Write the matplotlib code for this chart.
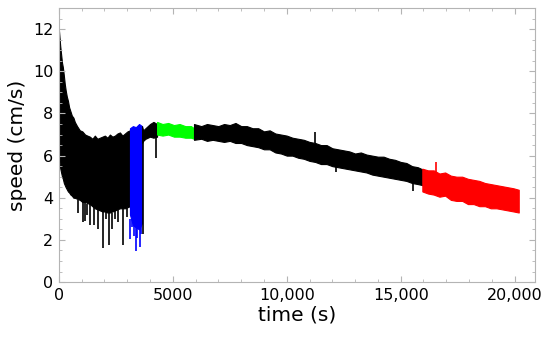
import numpy as np
import matplotlib
matplotlib.use("Agg")
import matplotlib.pyplot as plt
from matplotlib.ticker import MultipleLocator, FuncFormatter

# Envelopes of the noisy speed trace (time in s, speed in cm/s)
t_black1 = [0, 30, 60, 100, 140, 176, 220, 260, 300, 350, 400, 450, 510, 570, 640,
            700, 800, 920, 1030, 1150, 1250, 1360, 1470, 1580, 1690, 1800, 1910,
            2020, 2130, 2240, 2350, 2460, 2570, 2680, 2790, 2900, 3010, 3120]
hi_black1 = [12.0, 11.6, 11.2, 10.8, 10.4, 10.2, 9.8, 9.4, 9.1, 8.8, 8.6, 8.3, 8.1, 7.9, 7.8,
             7.6, 7.4, 7.2, 7.15, 7.0, 6.95, 6.9, 6.8, 6.95, 6.8, 6.85, 6.9,
             6.95, 6.85, 7.0, 6.9, 6.95, 7.05, 7.1, 6.95, 7.05, 7.15, 7.2]
lo_black1 = [6.1, 5.7, 5.4, 5.2, 5.0, 4.9, 4.7, 4.6, 4.5, 4.4, 4.3, 4.25, 4.15, 4.1, 4.0,
             4.0, 3.95, 3.9, 3.8, 3.8, 3.75, 3.7, 3.6, 3.5, 3.45, 3.4, 3.35,
             3.35, 3.3, 3.3, 3.35, 3.4, 3.45, 3.5, 3.5, 3.5, 3.55, 3.6]

t_blue = [3120, 3250, 3380, 3520, 3650]
hi_blue = [7.3, 7.4, 7.35, 7.5, 7.4]
lo_blue = [3.2, 2.7, 2.6, 2.5, 2.8]

t_black2 = [3650, 3700, 3800, 4000, 4150, 4310]
hi_black2 = [7.4, 7.2, 7.3, 7.5, 7.6, 7.5]
lo_black2 = [6.6, 6.7, 6.8, 6.9, 6.85, 6.9]

t_green = [4310, 4550, 4800, 5050, 5300, 5550, 5800, 5930]
hi_green = [7.6, 7.5, 7.55, 7.45, 7.5, 7.4, 7.4, 7.3]
lo_green = [7.0, 6.95, 7.0, 6.9, 6.9, 6.85, 6.85, 6.8]

t_black3 = [5930, 6250, 6500, 6750, 7000, 7250, 7500, 7750, 8000, 8250, 8500, 8750,
            9000, 9250, 9500, 9750, 10000, 10250, 10500, 10750, 11000, 11250, 11500,
            11750, 12000, 12250, 12500, 12750, 13000, 13250, 13500, 13750, 14000,
            14250, 14500, 14750, 15000, 15250, 15500, 15750, 15950]
hi_black3 = [7.5, 7.4, 7.5, 7.45, 7.4, 7.5, 7.45, 7.55, 7.4, 7.4, 7.3, 7.3,
             7.15, 7.2, 7.05, 7.0, 6.95, 6.85, 6.8, 6.75, 6.65, 6.6, 6.5,
             6.5, 6.35, 6.3, 6.25, 6.2, 6.1, 6.15, 6.05, 6.0, 5.95,
             5.95, 5.85, 5.8, 5.7, 5.65, 5.5, 5.45, 5.35]
lo_black3 = [6.75, 6.8, 6.7, 6.75, 6.7, 6.65, 6.7, 6.6, 6.6, 6.5, 6.45, 6.4,
             6.3, 6.3, 6.15, 6.1, 6.0, 6.0, 5.9, 5.85, 5.75, 5.7, 5.6,
             5.6, 5.5, 5.45, 5.4, 5.35, 5.3, 5.25, 5.2, 5.1, 5.05,
             5.0, 4.95, 4.9, 4.85, 4.8, 4.7, 4.65, 4.6]

t_red = [15950, 16200, 16450, 16700, 16950, 17200, 17450, 17700, 17950, 18200,
         18450, 18700, 18950, 19200, 19450, 19700, 19950, 20180]
hi_red = [5.38, 5.3, 5.3, 5.15, 5.2, 5.05, 5.0, 5.0, 4.9, 4.85,
          4.8, 4.7, 4.65, 4.6, 4.55, 4.5, 4.45, 4.38]
lo_red = [4.3, 4.2, 4.15, 4.05, 4.1, 3.9, 3.85, 3.85, 3.7, 3.7,
          3.6, 3.6, 3.5, 3.5, 3.45, 3.4, 3.35, 3.3]

# Isolated spikes: time, tip value, value where the spike joins the band
spike_black_t = [850, 1050, 1140, 1250, 1360, 1540, 1710, 1930, 2050, 2200, 2330, 2450,
                 2590, 2810, 2990, 3680, 4260, 11250, 12170, 15560]
spike_black_tip = [3.3, 2.85, 2.9, 3.2, 2.7, 2.7, 2.5, 1.6, 3.0, 1.75, 2.5, 3.0,
                   2.85, 1.75, 3.1, 2.3, 5.9, 7.14, 5.2, 4.3]
spike_black_base = [3.9, 3.8, 3.75, 3.7, 3.7, 3.6, 3.5, 3.4, 3.35, 3.35, 3.3, 3.4,
                    3.4, 3.5, 3.5, 6.7, 6.9, 6.6, 5.5, 4.7]
spike_blue_t = [3140, 3200, 3300, 3380, 3450, 3540, 3600]
spike_blue_tip = [2.05, 2.6, 2.2, 1.45, 2.1, 1.65, 2.3]
spike_red_t = [16570]
spike_red_tip = [5.7]

plt.rcParams['font.family'] = 'DejaVu Sans'
fig = plt.figure(figsize=(5.5, 3.39), dpi=100)
ax = fig.add_axes([0.107, 0.168, 0.866, 0.808])

segments = [
    (t_black1, hi_black1, lo_black1, 'black'),
    (t_blue, hi_blue, lo_blue, '#0000ff'),
    (t_black2, hi_black2, lo_black2, 'black'),
    (t_green, hi_green, lo_green, '#00ff00'),
    (t_black3, hi_black3, lo_black3, 'black'),
    (t_red, hi_red, lo_red, '#ff0000'),
]
for t, hi, lo, c in segments:
    ax.fill_between(t, lo, hi, color=c, lw=0.8, edgecolor=c)

ax.vlines(spike_black_t, spike_black_tip, spike_black_base, color='black', lw=1.2)
ax.vlines(spike_blue_t, spike_blue_tip, 3.0, color='#0000ff', lw=1.2)
ax.vlines(spike_red_t, 5.0, spike_red_tip, color='#ff0000', lw=1.2)

ax.set_xlim(0, 20900)
ax.set_ylim(0, 13)
ax.xaxis.set_major_locator(MultipleLocator(5000))
ax.xaxis.set_minor_locator(MultipleLocator(1000))
ax.yaxis.set_major_locator(MultipleLocator(2))
ax.yaxis.set_minor_locator(MultipleLocator(0.5))
ax.xaxis.set_major_formatter(FuncFormatter(lambda v, p: "%d" % v if v < 10000 else "{:,}".format(int(v))))

gray = '#b4b4b4'
for s in ax.spines.values():
    s.set_color(gray)
    s.set_linewidth(0.8)
ax.tick_params(which='both', direction='in', top=True, right=True, color=gray,
               labelsize=11.5, labelcolor='black')
ax.tick_params(which='major', length=4, width=0.8, pad=4)
ax.tick_params(which='minor', length=2.5, width=0.6)

ax.set_xlabel('time (s)', fontsize=14.5, labelpad=2)
ax.set_ylabel('speed (cm/s)', fontsize=14.5, labelpad=4)

fig.savefig('out.png', dpi=100)
